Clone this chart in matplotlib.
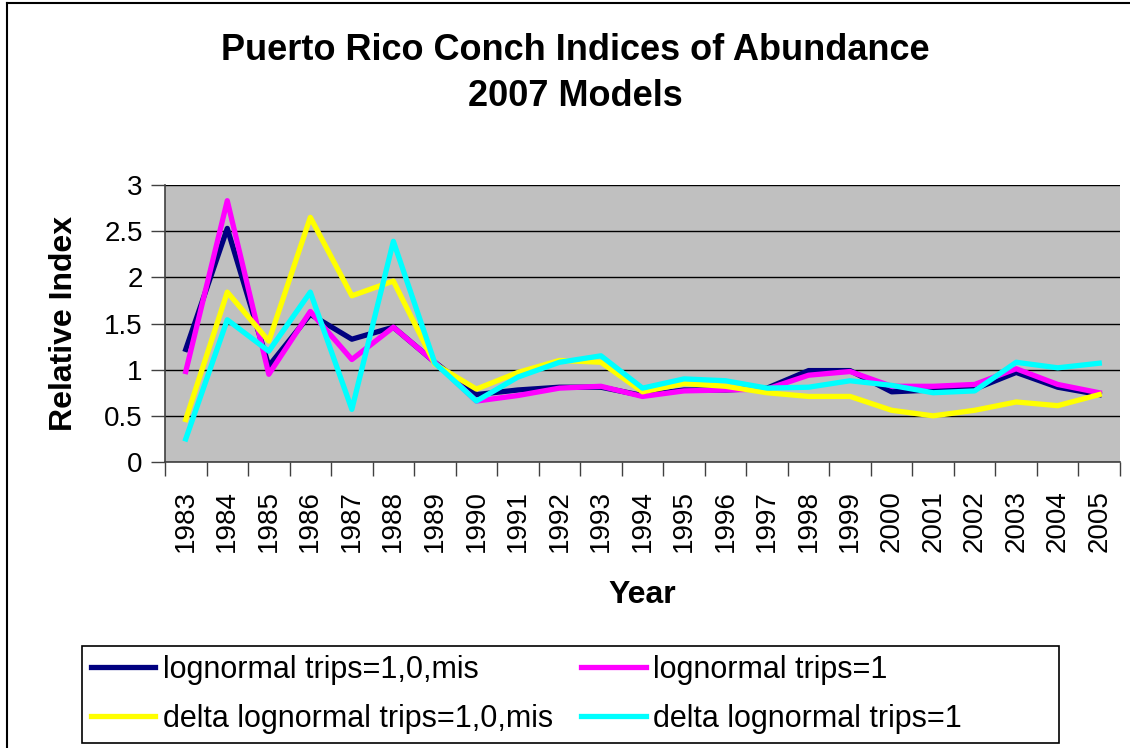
import matplotlib
matplotlib.use("Agg")
import matplotlib.pyplot as plt
from matplotlib.lines import Line2D
from matplotlib.patches import Rectangle
from matplotlib.ticker import FixedLocator, NullFormatter

plt.rcParams["font.family"] = ["Liberation Sans", "DejaVu Sans"]

years = list(range(1983, 2006))

lognormal_full = [1.22, 2.53, 1.04, 1.60, 1.33, 1.46, 1.08, 0.73, 0.78, 0.81, 0.81, 0.72,
                  0.78, 0.78, 0.80, 0.99, 0.99, 0.76, 0.78, 0.79, 0.97, 0.81, 0.73]
lognormal_1 = [0.98, 2.83, 0.95, 1.63, 1.11, 1.46, 1.08, 0.66, 0.72, 0.80, 0.82, 0.71,
               0.77, 0.78, 0.79, 0.94, 0.98, 0.82, 0.82, 0.84, 1.01, 0.84, 0.75]
delta_full = [0.46, 1.84, 1.31, 2.65, 1.80, 1.96, 1.06, 0.79, 0.97, 1.10, 1.08, 0.76,
              0.85, 0.82, 0.75, 0.71, 0.71, 0.56, 0.50, 0.56, 0.65, 0.61, 0.73]
delta_1 = [0.25, 1.54, 1.20, 1.84, 0.57, 2.39, 1.07, 0.66, 0.92, 1.08, 1.15, 0.80,
           0.90, 0.88, 0.80, 0.81, 0.88, 0.83, 0.75, 0.77, 1.08, 1.02, 1.07]

series = [
    ("lognormal trips=1,0,mis", lognormal_full, "#000080"),
    ("lognormal trips=1", lognormal_1, "#FF00FF"),
    ("delta lognormal trips=1,0,mis", delta_full, "#FFFF00"),
    ("delta lognormal trips=1", delta_1, "#00FFFF"),
]

W, H = 1130, 748
fig = plt.figure(figsize=(W / 100, H / 100), dpi=100)

# outer chart frame (left and top edges visible in the reference)
fig.add_artist(Line2D([7 / W, 7 / W], [0, 1 - 3 / H], color="black", lw=1.5))
fig.add_artist(Line2D([7 / W, 1], [1 - 3 / H, 1 - 3 / H], color="black", lw=1.5))

left, right, top, bottom = 165, 1120, 185, 462
ax = fig.add_axes([left / W, 1 - bottom / H, (right - left) / W, (bottom - top) / H])
ax.set_facecolor("#C0C0C0")

x = list(range(len(years)))
lines = {}
for label, vals, color in series:
    (ln,) = ax.plot(x, vals, color=color, lw=3.8, label=label)
    lines[label] = ln

ax.set_xlim(-0.5, len(years) - 0.5)
ax.set_ylim(0, 3)
ax.set_yticks([0, 0.5, 1, 1.5, 2, 2.5, 3])
ax.set_yticklabels(["0", "0.5", "1", "1.5", "2", "2.5", "3"], fontsize=20)
ax.yaxis.grid(True, color="black", lw=1)
ax.set_axisbelow(True)

ax.set_xticks(x)
ax.set_xticklabels([str(y) for y in years], rotation=90, fontsize=20)
ax.xaxis.set_minor_locator(FixedLocator([i - 0.5 for i in range(len(years) + 1)]))
ax.xaxis.set_minor_formatter(NullFormatter())
ax.tick_params(axis="x", which="major", length=0, pad=20)
ax.tick_params(axis="x", which="minor", length=10, width=1, color="#404040")
ax.tick_params(axis="y", length=10, width=1, color="#404040", pad=6)

for side in ("top", "right"):
    ax.spines[side].set_visible(False)
for side in ("left", "bottom"):
    ax.spines[side].set_color("#404040")
    ax.spines[side].set_linewidth(1.2)

ax.set_xlabel("Year", fontsize=23, fontweight="bold", labelpad=20)
ax.set_ylabel("Relative Index", fontsize=23, fontweight="bold", labelpad=18)

fig.text(575 / W, 1 - 50 / H, "Puerto Rico Conch Indices of Abundance",
         ha="center", va="center", fontsize=26, fontweight="bold")
fig.text(575 / W, 1 - 97 / H, "2007 Models",
         ha="center", va="center", fontsize=26, fontweight="bold")

# legend: row-major order in the reference, matplotlib fills columns first
order = ["lognormal trips=1,0,mis", "delta lognormal trips=1,0,mis",
         "lognormal trips=1", "delta lognormal trips=1"]
fig.add_artist(Rectangle((82 / W, 1 - 743 / H), (1059 - 82) / W, (743 - 646) / H,
                         transform=fig.transFigure, fill=False, edgecolor="black", lw=1.2))
fig.legend(
    [lines[k] for k in order], order,
    loc="upper left",
    bbox_to_anchor=(91 / W, 1 - 655 / H),
    ncol=2,
    fontsize=22,
    frameon=False,
    handlelength=2.1,
    handletextpad=0.25,
    columnspacing=0.93,
    borderpad=0,
    borderaxespad=0,
    labelspacing=0.62,
)

fig.savefig("out.png", dpi=100)
